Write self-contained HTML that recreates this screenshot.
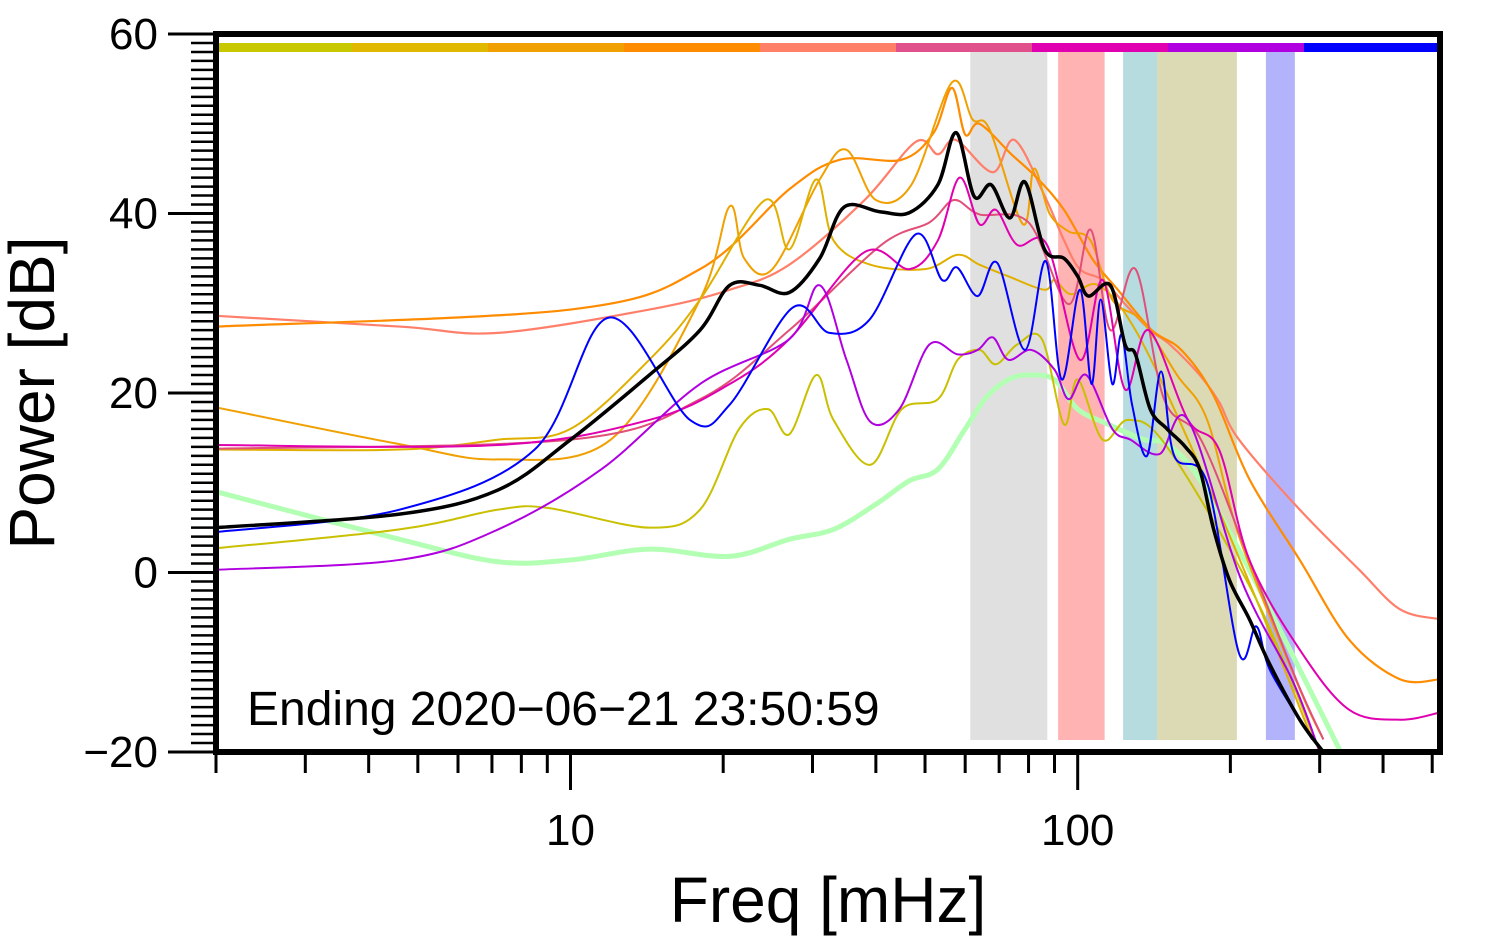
<!DOCTYPE html>
<html><head><meta charset="utf-8"><style>
body{margin:0;background:#fff}
svg{display:block;font-family:"Liberation Sans",sans-serif}
</style></head><body>
<svg id="chart" width="1494" height="952" viewBox="0 0 1494 952">
<defs><clipPath id="clip"><rect x="216" y="34" width="1224" height="718"/></clipPath></defs>
<g id="bands"></g>
<g id="topbar"></g>
<g id="series" clip-path="url(#clip)"></g>
<g id="axes"></g>
<text x="247" y="725" font-size="48">Ending 2020−06−21 23:50:59</text>
<text x="828" y="922" font-size="64" text-anchor="middle">Freq [mHz]</text>
<text transform="translate(54,393) rotate(-90)" font-size="64" text-anchor="middle">Power [dB]</text>
</svg>
<script>
const xMin=2, xMax=518, yMin=-20, yMax=60;
const bandStarts=[61.4,91.5,122.9,143.4,235];
const bandEnds=[87.1,113,144.5,206,268];
const bandColors=["#e0e0e0","#ffb3b3","#b6dcdf","#dbdab4","#b3b3fb"];
const barColors=["#c8c800","#e0b800","#f0a000","#ff8c00","#ff8066","#e0508a","#e000b0","#b000e0","#0000ff"];
const greenF=[2,4.6,7.2,10,14.3,20.6,27,33,40,46.5,53,60,66,73,80,90,100,115,135,150,174,218,274,330];
const greenV=[9,3.7,1.2,1.4,2.6,1.8,3.7,4.8,7.6,10.2,11.5,16,19.5,21.5,22,21.5,18.2,16.5,14.8,14.3,10.4,0.3,-10.8,-20];
const salmonF=[2,4.6,7.2,14.3,20.6,27,38,48,53,57.5,68,75,86,94,101,112,124,139,152,174,190,208,274,359,432,518];
const salmonV=[28.6,27.4,26.7,29.3,31.5,34.3,41.5,48,46.6,48.2,44.6,48.2,42,37,33.8,32.6,29.9,27,25.4,22,19,14.8,7,0.3,-4.1,-5.2];
const orangeF=[2,10,18,27,34,45,52,56.5,60,64,74,83,94,107,120,140,160,185,218,274,343,432,518];
const orangeV=[27.4,29.3,33.8,42.7,46,46,49,54,48.8,50,46.6,44,40.4,34.9,31.5,27,24.8,19.8,10.4,1.4,-7.5,-11.9,-11.9];
const goldOF=[2,4.6,7.2,12,18,20.6,22,25,31,35,40,47,56.5,62,67,78,82,88,96,106,117,134,157,180,209,274,305];
const goldOV=[18.4,14.3,12.6,14.8,30.4,40.8,35,33.8,43.8,47.1,41.5,43.2,54.6,50.5,49.4,38.8,45,40,38,37,30.4,28,22,17,3.7,-13,-18.6];
const goldF=[2,4.6,7.2,10,14.3,18,24.2,27,30.5,33,39,50,58,64,73,86,90,97,110,130,165,225,290];
const goldV=[13.7,13.7,14.8,16,23.7,30.4,41.5,36,43.8,37,34.3,33.8,35.4,34.3,33,31.5,32.6,31,32,27,14.8,-3,-18.6];
const yellowF=[2,4.6,7.2,9,14.3,18,21.5,24.5,27,30.5,33,39,45,53,58,64,69,76,85,94,100,112,126,150,225,300];
const yellowV=[2.7,4.8,7,7.2,5,7,16,18.2,15.4,22,17,12,18.2,19.3,23.7,24.8,23.2,25.4,26,16.5,21.5,14.8,17,14,-3,-20];
const magentaF=[2,7.2,14.3,20.6,27,38,46.6,53,58.5,64,69,76,87,101,112,124,138,165,190,218,274,343,432,518];
const magentaV=[14.2,14.2,17,21,26,35.7,33.8,37,44,38.8,40.4,36.5,36.5,23.7,32.6,20.4,27,17,13.7,1.4,-8.6,-15.3,-16.4,-15.6];
const roseF=[2,10,18,27,41,51,57,64,80,96,106,116,130,148,175,218,270,305];
const roseV=[13.8,14.8,19.3,27,36.5,39,41.5,39.9,39,29.9,38.2,27,33.8,19.3,14.8,1.4,-12,-18.6];
const purpleF=[2,4.6,7.2,11.5,18,27,31,35,39,44.5,51,58,63.5,68,73,81,90,96,104,117,127,145,165,210,265,300];
const purpleV=[0.3,1.4,4.8,11.5,21,26,32,23.7,16.8,18.2,25.4,24.3,24.8,26.2,23.7,24.8,22.6,19.3,22,16,14.8,13.2,17,-0.8,-12,-20];
const blueF=[2,4.6,8.5,11.9,17.2,20.6,27.4,32.4,38.9,48,54,57.8,63.5,69.4,78.7,86.5,93,101,106.5,111,117,122,128,137,146,155,180,208,225,240,290];
const blueV=[4.5,7,13.7,28.4,17,18.7,29.5,26.7,28.2,37.7,32.6,34,30.8,34.5,24.8,34.7,21.5,31.5,21,30.4,21,26.5,18.7,13,22.4,13,10,-9,-6,-11,-18.6];
const blackF=[2,4.6,7.2,10,14.3,18,20.6,23.6,27,31,34.6,40.7,46.6,53,57.6,62.5,67.5,73.5,78.7,86,94,100,105,116,124,130,139,150,163,174,185,199,218,239,274,305];
const blackV=[5,6.5,9.2,14.8,22,27,32,32,31.2,35,40.7,40.2,40.1,43.2,49,41.9,43.2,39.5,43.5,36,35,33,30.8,32,25.4,24.3,18.2,16,14,11.5,5,-0.8,-5.2,-10.2,-16.4,-20];

const X0=216,X1=1440,Y0=34,Y1=752;
const lx=f=>X0+(Math.log10(f)-Math.log10(xMin))/(Math.log10(xMax)-Math.log10(xMin))*(X1-X0);
const ly=v=>Y1-(v-yMin)/(yMax-yMin)*(Y1-Y0);
const NS="http://www.w3.org/2000/svg";
function mk(tag,attrs,parent){const e=document.createElementNS(NS,tag);for(const k in attrs)e.setAttribute(k,attrs[k]);parent.appendChild(e);return e;}
function smooth(F,V){const p=F.map((f,i)=>[lx(f),ly(V[i])]);let d=`M${p[0][0]},${p[0][1]}`;
 for(let i=0;i<p.length-1;i++){const a=p[i-1]||p[i],b=p[i],c=p[i+1],e=p[i+2]||c;
  d+=` C${b[0]+(c[0]-a[0])/6},${b[1]+(c[1]-a[1])/6} ${c[0]-(e[0]-b[0])/6},${c[1]-(e[1]-b[1])/6} ${c[0]},${c[1]}`;}return d;}

const bands=document.getElementById('bands');
bandStarts.forEach((s,i)=>{const r=mk('rect',{x:lx(s),y:52,width:lx(bandEnds[i])-lx(s),height:688,fill:bandColors[i]},bands);

});
const tb=document.getElementById('topbar');const segW=(X1-X0)/barColors.length;
barColors.forEach((c,i)=>{const r=mk('rect',{x:X0+i*segW,y:43,width:segW,height:9,fill:c},tb);

});

const sg=document.getElementById('series');
const series=[["green-series",greenF,greenV,"#b3ffb3",5],["salmon-series",salmonF,salmonV,"#ff7f6a",2.2],["orange-series",orangeF,orangeV,"#ff8c00",2.2],["gold-orange-series",goldOF,goldOV,"#f0a000",2],["gold-series",goldF,goldV,"#e0b000",2],["yellow-series",yellowF,yellowV,"#c8c000",2],["rose-series",roseF,roseV,"#e05078",2],["magenta-series",magentaF,magentaV,"#e000b0",2],["purple-series",purpleF,purpleV,"#b000e0",2],["blue-series",blueF,blueV,"#0000ff",2],["mean-series",blackF,blackV,"#000",3.5]];
series.forEach(s=>{const p=mk('path',{d:smooth(s[1],s[2]),fill:"none",stroke:s[3],"stroke-width":s[4],"stroke-linejoin":"round"},sg);

});

const ax=document.getElementById('axes');
mk('rect',{x:X0,y:Y0,width:X1-X0,height:Y1-Y0,fill:"none",stroke:"#000","stroke-width":6},ax);
for(let v=yMin;v<=yMax;v++){const major=v%20===0;
 mk('line',{x1:major?168:191,x2:X0,y1:ly(v),y2:ly(v),stroke:"#000","stroke-width":major?3:2.5},ax);
 if(major){const t=mk('text',{x:158,y:ly(v)+15,"font-size":44,"text-anchor":"end"},ax);t.textContent=v<0?"−"+(-v):v;
 
 }}
const xt=[2,3,4,5,6,7,8,9,10,20,30,40,50,60,70,80,90,100,200,300,400,500];
xt.forEach(f=>{const major=f===10||f===100;mk('line',{x1:lx(f),x2:lx(f),y1:Y1,y2:major?790:773,stroke:"#000","stroke-width":3},ax);
 if(major){const t=mk('text',{x:lx(f),y:845,"font-size":44,"text-anchor":"middle"},ax);t.textContent=f;
 
 }});
</script>
</body></html>
